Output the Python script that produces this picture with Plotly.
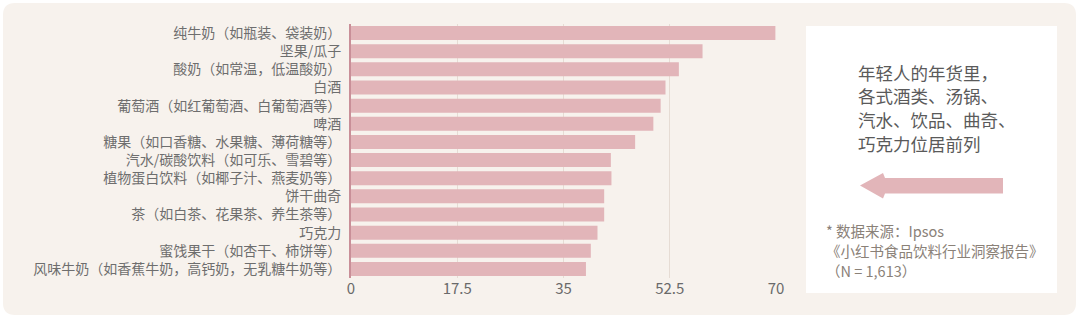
import plotly.graph_objects as go

categories = [
    "纯牛奶（如瓶装、袋装奶）",
    "坚果/瓜子",
    "酸奶（如常温，低温酸奶）",
    "白酒",
    "葡萄酒（如红葡萄酒、白葡萄酒等）",
    "啤酒",
    "糖果（如口香糖、水果糖、薄荷糖等）",
    "汽水/碳酸饮料（如可乐、雪碧等）",
    "植物蛋白饮料（如椰子汁、燕麦奶等）",
    "饼干曲奇",
    "茶（如白茶、花果茶、养生茶等）",
    "巧克力",
    "蜜饯果干（如杏干、柿饼等）",
    "风味牛奶（如香蕉牛奶，高钙奶，无乳糖牛奶等）",
]
values = [69.9, 57.9, 54.0, 51.8, 51.0, 49.8, 46.8, 42.8, 42.9, 41.7, 41.7, 40.6, 39.5, 38.7]
tick_vals = [0, 17.5, 35, 52.5, 70]
tick_text = ["0", "17.5", "35", "52.5", "70"]

note_lines = ["年轻人的年货里，", "各式酒类、汤锅、", "汽水、饮品、曲奇、", "巧克力位居前列"]
source_lines = ["* 数据来源：Ipsos", "《小红书食品饮料行业洞察报告》", "（N = 1,613）"]

FONT = "Noto Sans CJK SC, Noto Sans, sans-serif"
W_PX, H_PX = 1080, 318
L, R, T, B = 351, 776, 24, 278
PW, PH = R - L, B - T


def px(x):
    return (x - L) / PW


def py(y):
    return (B - y) / PH


def rounded_rect(x0, y0, x1, y1, r):
    pts = [
        f"M {px(x0 + r)},{py(y0)}",
        f"L {px(x1 - r)},{py(y0)}",
        f"Q {px(x1)},{py(y0)} {px(x1)},{py(y0 + r)}",
        f"L {px(x1)},{py(y1 - r)}",
        f"Q {px(x1)},{py(y1)} {px(x1 - r)},{py(y1)}",
        f"L {px(x0 + r)},{py(y1)}",
        f"Q {px(x0)},{py(y1)} {px(x0)},{py(y1 - r)}",
        f"L {px(x0)},{py(y0 + r)}",
        f"Q {px(x0)},{py(y0)} {px(x0 + r)},{py(y0)}",
        "Z",
    ]
    return " ".join(pts)


def poly(points):
    return "M " + " L ".join(f"{px(x)},{py(y)}" for x, y in points) + " Z"


fig = go.Figure(
    go.Bar(
        x=values,
        y=categories,
        orientation="h",
        marker=dict(color="#e2b5b9", line=dict(width=0)),
        hoverinfo="x+y",
    )
)

shapes = [
    dict(type="path", xref="paper", yref="paper", path=rounded_rect(3, 3, 1076, 315, 12),
         fillcolor="#f7f2ed", line=dict(width=0), layer="below"),
    dict(type="rect", xref="paper", yref="paper", x0=px(806), x1=px(1057), y0=py(293), y1=py(26),
         fillcolor="#ffffff", line=dict(width=0), layer="below"),
    dict(type="path", xref="paper", yref="paper",
         path=poly([(860, 185.5), (883, 173), (885, 178), (1003, 178), (1003, 193.5), (885, 193.5), (883, 198.5)]),
         fillcolor="#e2b5b9", line=dict(width=0), layer="above"),
]

annotations = []
for i, line in enumerate(note_lines):
    annotations.append(dict(
        xref="paper", yref="paper", x=px(857), y=py(72 + 23.7 * i), xanchor="left", yanchor="middle",
        text=line, showarrow=False, align="left", borderpad=0,
        font=dict(family=FONT, size=17.5, color="#5a5a5a")))
for i, line in enumerate(source_lines):
    annotations.append(dict(
        xref="paper", yref="paper", x=px(825), y=py(230 + 20 * i), xanchor="left", yanchor="middle",
        text=line, showarrow=False, align="left", borderpad=0,
        font=dict(family=FONT, size=14.5, color="#8a8178")))

fig.update_layout(
    width=W_PX,
    height=H_PX,
    margin=dict(l=L, r=W_PX - R, t=T, b=H_PX - B, pad=0),
    paper_bgcolor="#ffffff",
    plot_bgcolor="rgba(0,0,0,0)",
    bargap=0.23,
    showlegend=False,
    shapes=shapes,
    annotations=annotations,
    xaxis=dict(
        range=[0, 70],
        tickvals=tick_vals,
        ticktext=tick_text,
        showgrid=True,
        gridcolor="#e6dcd4",
        gridwidth=1,
        zeroline=False,
        showline=False,
        ticks="",
        tickfont=dict(family=FONT, size=15, color="#6a6a6a"),
        fixedrange=True,
    ),
    yaxis=dict(
        autorange="reversed",
        showgrid=False,
        zeroline=False,
        showline=True,
        linecolor="#c98f98",
        linewidth=2,
        ticks="",
        ticklabelstandoff=5,
        tickfont=dict(family=FONT, size=14, color="#6e6e6e"),
        fixedrange=True,
    ),
)

fig.write_html("out.html")
